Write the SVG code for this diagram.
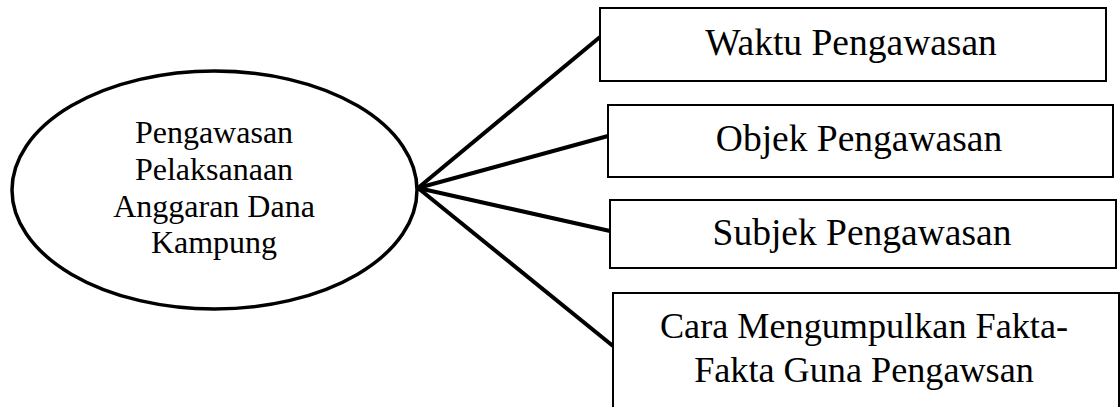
<svg xmlns="http://www.w3.org/2000/svg" width="1120" height="407" viewBox="0 0 1120 407">
<style>
.box{fill:#fff;stroke:#000;stroke-width:2}
.ell{fill:#fff;stroke:#000;stroke-width:3.5}
.conn{stroke:#000;stroke-width:4;fill:none;stroke-linecap:butt}
text{font-family:'Liberation Serif','Times New Roman',serif;fill:#000;text-anchor:middle}
.tb{font-size:37.5px}
.tc{font-size:36.2px}
.te{font-size:32px}
</style>
<rect width="1120" height="407" fill="#fff"/>
<g id="connectors">
<line class="conn" x1="418" y1="188" x2="600" y2="37"/>
<line class="conn" x1="418" y1="188" x2="608" y2="136"/>
<line class="conn" x1="418" y1="188" x2="610" y2="231"/>
<line class="conn" x1="418" y1="188" x2="613" y2="346"/>
</g>
<g id="center">
<ellipse class="ell" cx="214.5" cy="190" rx="202.5" ry="119"/>
<text class="te" x="214" y="143">Pengawasan</text>
<text class="te" x="214" y="180">Pelaksanaan</text>
<text class="te" x="214" y="217">Anggaran Dana</text>
<text class="te" x="214" y="253">Kampung</text>
</g>
<g id="waktu">
<rect class="box" x="600" y="8" width="506" height="73"/>
<text class="tb" x="851" y="55">Waktu Pengawasan</text>
</g>
<g id="objek">
<rect class="box" x="608" y="105" width="505" height="72"/>
<text class="tb" x="859" y="151">Objek Pengawasan</text>
</g>
<g id="subjek">
<rect class="box" x="610" y="200" width="506" height="68"/>
<text class="tb" x="862" y="245">Subjek Pengawasan</text>
</g>
<g id="cara">
<rect class="box" x="613" y="293" width="506" height="130"/>
<text class="tc" x="864" y="338">Cara Mengumpulkan Fakta-</text>
<text class="tc" x="864" y="382">Fakta Guna Pengawsan</text>
</g>
</svg>
